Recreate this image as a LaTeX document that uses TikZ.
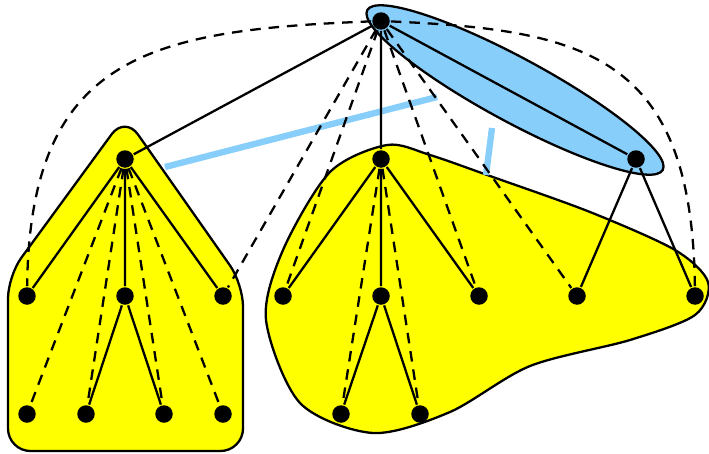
\documentclass[tikz,border=0pt]{standalone}
\usetikzlibrary{backgrounds}
\definecolor{skyblue}{RGB}{135,206,250}
\definecolor{bagyellow}{RGB}{255,255,0}

\begin{document}
\begin{tikzpicture}[x=0.02cm,y=-0.02cm,line width=1.3pt,
  dot/.style={circle,fill=black,inner sep=0pt,minimum size=0.35cm},
  extra/.style={dash pattern=on 6pt off 4.5pt},
  bag/.style={draw=black,fill=bagyellow,line width=1.3pt},
  link/.style={skyblue,line width=3.6pt}]
  \useasboundingbox (0,0) rectangle (709,453);
  % knoten
  \node[dot] (r) at (381,21) {};
  \node[dot] (a) at (125,159) {};
  \node[dot] (b) at (381,159) {};
  \node[dot] (c) at (636,159) {};
  \node[dot] (a1) at (27,296) {};
  \node[dot] (a2) at (125,296) {};
  \node[dot] (a3) at (223,296) {};
  \node[dot] (b1) at (283,296) {};
  \node[dot] (b2) at (381,296) {};
  \node[dot] (b3) at (479,296) {};
  \node[dot] (c1) at (577,296) {};
  \node[dot] (c2) at (695,296) {};
  \node[dot] (l1) at (27,414) {};
  \node[dot] (l2) at (86,414) {};
  \node[dot] (l3) at (164,414) {};
  \node[dot] (l4) at (223,414) {};
  \node[dot] (m1) at (341,414) {};
  \node[dot] (m2) at (420,414) {};
  % baumkanten
  \draw (r) -- (a) (r) -- (b) (r) -- (c);
  \draw (a) -- (a1) (a) -- (a2) (a) -- (a3) (a2) -- (l2) (a2) -- (l3);
  \draw (b) -- (b1) (b) -- (b2) (b) -- (b3) (b2) -- (m1) (b2) -- (m2);
  \draw (c) -- (c1) (c) -- (c2);
  % gestrichelte kanten
  \draw[extra] (r) .. controls (150,30) and (30,55) .. (a1);
  \draw[extra] (r) .. controls (586,30) and (692,55) .. (c2);
  \draw[extra] (r) -- (a3) (r) -- (b1) (r) -- (b3) (r) -- (c1);
  \draw[extra] (a) -- (l1) (a) -- (l2) (a) -- (l3) (a) -- (l4);
  \draw[extra] (b) -- (m1) (b) -- (m2);
  % taschen
  \begin{scope}[on background layer]
    \draw[bag,rounded corners=0.45cm] (125,116) -- (8,276) -- (8,451) -- (243,451) -- (243,284) -- cycle;
    \draw[bag] plot[smooth cycle] coordinates {(387,145) (330,172) (283,250) (266,320) (300,403) (373,433) (450,412) (530,366) (630,340) (695,315) (708,282) (675,250) (590,212) (490,176) (430,155)};
    \draw[fill=skyblue,line width=1.3pt,rotate around={-28.4:(515,90)}] (515,90) ellipse [x radius=3.36cm, y radius=0.64cm];
    \coordinate (pa) at (165,167);
    \coordinate (pe) at (437,97);
    \coordinate (pf) at (492,128);
    \coordinate (pb) at (486,175);
    \draw[link] (pa) -- (pe);
    \draw[link] (pf) -- (pb);
  \end{scope}
\end{tikzpicture}
\end{document}
